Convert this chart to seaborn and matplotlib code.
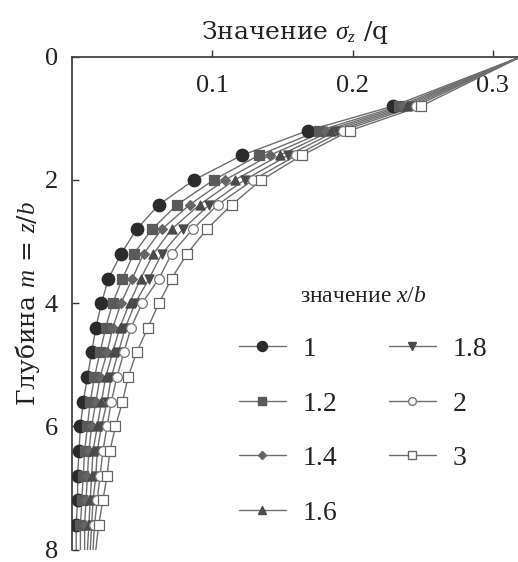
import matplotlib
matplotlib.use("Agg")
import matplotlib.pyplot as plt
from matplotlib.lines import Line2D
import numpy as np
import pandas as pd
import seaborn as sns

# Depth m = z/b (line end points and sampled depths with markers)
depth_line = [0.0, 0.8, 1.2, 1.6, 2.0, 2.4, 2.8, 3.2, 3.6, 4.0, 4.4,
              4.8, 5.2, 5.6, 6.0, 6.4, 6.8, 7.2, 7.6, 8.0]
marker_depths = depth_line[1:-1]

xb_labels = ["1", "1.2", "1.4", "1.6", "1.8", "2", "3"]

# sigma_z / q for each x/b, at the depths in depth_line
s_1_0 = [0.320, 0.229, 0.168, 0.121, 0.087, 0.062, 0.046, 0.035, 0.026, 0.021, 0.017,
         0.014, 0.011, 0.008, 0.006, 0.005, 0.004, 0.004, 0.003, 0.003]
s_1_2 = [0.320, 0.233, 0.176, 0.133, 0.101, 0.075, 0.057, 0.044, 0.036, 0.029, 0.024,
         0.020, 0.016, 0.013, 0.011, 0.009, 0.008, 0.007, 0.006, 0.006]
s_1_4 = [0.320, 0.236, 0.181, 0.141, 0.109, 0.084, 0.064, 0.051, 0.043, 0.035, 0.029,
         0.025, 0.020, 0.017, 0.014, 0.012, 0.011, 0.010, 0.009, 0.009]
s_1_6 = [0.320, 0.239, 0.185, 0.148, 0.116, 0.091, 0.071, 0.058, 0.049, 0.041, 0.034,
         0.029, 0.024, 0.021, 0.018, 0.015, 0.014, 0.013, 0.012, 0.011]
s_1_8 = [0.320, 0.242, 0.189, 0.154, 0.123, 0.098, 0.079, 0.064, 0.055, 0.045, 0.038,
         0.033, 0.028, 0.025, 0.021, 0.018, 0.017, 0.015, 0.014, 0.013]
s_2_0 = [0.320, 0.245, 0.193, 0.160, 0.129, 0.104, 0.086, 0.071, 0.062, 0.050, 0.042,
         0.037, 0.032, 0.028, 0.025, 0.022, 0.020, 0.018, 0.016, 0.015]
s_3_0 = [0.320, 0.249, 0.198, 0.164, 0.135, 0.114, 0.096, 0.082, 0.071, 0.062, 0.054,
         0.046, 0.040, 0.036, 0.031, 0.027, 0.025, 0.022, 0.019, 0.017]

series = [s_1_0, s_1_2, s_1_4, s_1_6, s_1_8, s_2_0, s_3_0]

rows = []
for lab, vals in zip(xb_labels, series):
    for z, s in zip(depth_line, vals):
        rows.append({"xb": lab, "z": z, "s": s})
df = pd.DataFrame(rows)
df_marks = df[df["z"].isin(marker_depths)]

sns.set_theme(style="white")
plt.rcParams["font.family"] = "serif"
plt.rcParams["font.serif"] = ["Liberation Serif", "DejaVu Serif"]
plt.rcParams["mathtext.fontset"] = "custom"
plt.rcParams["mathtext.rm"] = "Liberation Serif"
plt.rcParams["mathtext.it"] = "Liberation Serif:italic"

styles = {
    "1":   dict(marker="o", ms=9.0, mfc="#2b2b2b", mec="#2b2b2b"),
    "1.2": dict(marker="s", ms=6.5, mfc="#5a5a5a", mec="#5a5a5a"),
    "1.4": dict(marker="D", ms=5.0, mfc="#666666", mec="#666666"),
    "1.6": dict(marker="^", ms=6.5, mfc="#4a4a4a", mec="#4a4a4a"),
    "1.8": dict(marker="v", ms=6.5, mfc="#4a4a4a", mec="#4a4a4a"),
    "2":   dict(marker="o", ms=7.0, mfc="white", mec="#777777"),
    "3":   dict(marker="s", ms=7.0, mfc="white", mec="#666666"),
}
line_color = "#6e6e6e"
text_color = "#222222"
label_font = dict(family=["DejaVu Serif"], size=18, color=text_color)

fig = plt.figure(figsize=(5.18, 5.62), dpi=100)
ax = fig.add_axes([0.139, 0.022, 0.861, 0.877])

sns.lineplot(data=df, x="s", y="z", units="xb", estimator=None, sort=False,
             color=line_color, linewidth=1.0, legend=False, ax=ax, zorder=2)

for lab in xb_labels:
    st = styles[lab]
    sub = df_marks[df_marks["xb"] == lab]
    sns.scatterplot(data=sub, x="s", y="z", marker=st["marker"],
                    s=st["ms"] ** 2, color=st["mfc"], edgecolor=st["mec"],
                    linewidth=0.9, legend=False, ax=ax, zorder=3)

ax.set_xlim(0, 0.318)
ax.set_ylim(8, 0)

# x axis on top, labels tucked below the spine
ax.xaxis.set_label_position("top")
ax.set_xticks([0.1, 0.2, 0.3])
ax.set_xticklabels(["0.1", "0.2", "0.3"])
ax.tick_params(axis="x", top=True, bottom=False, labeltop=True, labelbottom=False,
               direction="out", length=5, width=1.0, color="#333333",
               pad=-34, labelsize=19, labelcolor=text_color)
ax.set_yticks([0, 2, 4, 6, 8])
ax.tick_params(axis="y", left=True, direction="in", length=5, width=1.0,
               color="#333333", labelsize=19, labelcolor=text_color, pad=10)

for side in ["right", "bottom"]:
    ax.spines[side].set_visible(False)
for side in ["top", "left"]:
    ax.spines[side].set_color("#444444")
    ax.spines[side].set_linewidth(1.3)

ax.set_xlabel(r"Значение $\mathit{\sigma_z}$ /q", fontdict=label_font, labelpad=8)
ax.set_ylabel(r"Глубина $\mathit{m}$ = $\mathit{z}$/$\mathit{b}$", fontdict=label_font,
              labelpad=2)

handles = []
for lab in xb_labels:
    st = styles[lab]
    handles.append(Line2D([0], [0], color=line_color, linewidth=1.0,
                          marker=st["marker"], markersize=st["ms"] * 0.8,
                          markerfacecolor=st["mfc"], markeredgecolor=st["mec"]))
leg = ax.legend(handles, xb_labels, ncol=2, loc="upper left",
                bbox_to_anchor=(0.318, 0.585), frameon=False, fontsize=20,
                title=r"значение $\mathit{x/b}$", title_fontsize=17,
                handlelength=1.7, handletextpad=0.6, columnspacing=1.85,
                labelspacing=1.05)
for t in leg.get_texts():
    t.set_color(text_color)
leg.get_title().set_color(text_color)

fig.savefig("out.png", dpi=100, facecolor="white")
